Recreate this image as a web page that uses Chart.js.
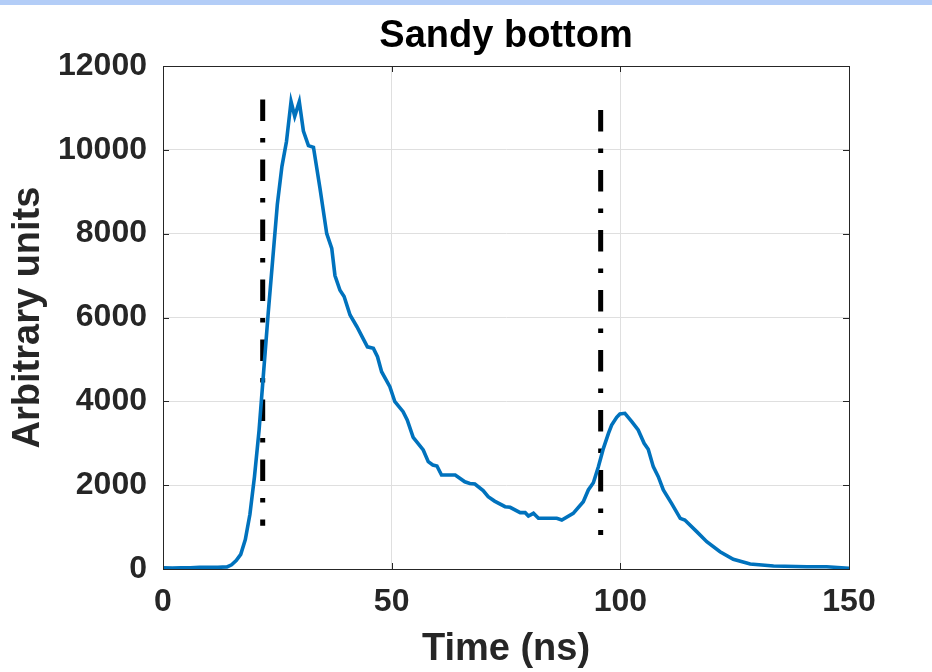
<!DOCTYPE html>
<html>
<head>
<meta charset="utf-8">
<title>Sandy bottom</title>
<script src="https://cdn.jsdelivr.net/npm/chart.js@4.4.1/dist/chart.umd.min.js"></script>
<style>
  html, body { margin: 0; padding: 0; background: #fff; }
  #wrap { position: relative; width: 932px; height: 672px; }
  #topBand { position: absolute; left: 0; top: 0; width: 932px; height: 5px; background: #b3cdf7; }
  canvas { position: absolute; left: 0; top: 0; }
</style>
</head>
<body>
<div id="wrap">
  <canvas id="chart" width="932" height="672"></canvas>
  <div id="topBand"></div>
</div>
<script>
// Signal (time in ns, arbitrary units)
const timeNs = [
  0, 2, 4, 6, 8, 10, 12, 14, 15, 16, 17, 18, 19, 20, 21, 22, 23, 24, 25, 26,
  27, 28, 28.8, 29.8, 30.7, 31.8, 32.9, 34.3, 35.8, 36.9, 37.6, 38.7, 39.6, 40.9,
  42.4, 43.5, 44.7, 46.0, 46.9, 47.8, 49.6, 50.7, 52.5, 53.4, 54.7, 56.9, 58.0,
  59.0, 59.9, 60.9, 63.9, 66.0, 67.1, 68.2, 70.0, 71.1, 72.5, 74.8, 75.9, 78.1,
  79.2, 79.9, 81.0, 82.1, 86.1, 87.2, 89.7, 91.9, 93.0, 94.1, 95.2, 96.3, 97.4,
  98.1, 99.2, 99.9, 101.0, 102.5, 103.9, 105.2, 106.1, 107.2, 108.3, 109.4,
  111.2, 113.1, 114.1, 116.7, 118.9, 121.8, 124.7, 128.4, 133.5, 140.8, 145.1, 150
];
const signal = [
  30, 20, 30, 30, 40, 40, 40, 50, 100, 200, 350, 700, 1300, 2200, 3300, 4700, 6100, 7400, 8700, 9600,
  10200, 11150, 10800, 11150, 10450, 10100, 10060, 9100, 8000, 7650, 7000, 6650, 6500, 6060,
  5780, 5550, 5300, 5264, 5064, 4707, 4349, 3991, 3753, 3554, 3141, 2839, 2560,
  2481, 2457, 2242, 2242, 2080, 2040, 2028, 1869, 1725, 1620, 1487, 1471, 1344,
  1344, 1264, 1328, 1209, 1209, 1169, 1328, 1606, 1885, 2059, 2441, 2879, 3237,
  3435, 3620, 3700, 3714, 3515, 3316, 2998, 2855, 2441, 2203, 1885,
  1567, 1209, 1169, 891, 652, 413, 231, 119, 72, 55, 55, 17
];

// Dash-dot marker lines
const markerTimes = [21.8, 95.7];
const markerTop = [11200, 10950];
const markerBottom = [1030, 810];

// Axis ticks
const xTicks = [0, 50, 100, 150];
const yTicks = [0, 2000, 4000, 6000, 8000, 10000, 12000];

const titleText = "Sandy bottom";
const fontFamily = "'Liberation Sans', Arial, Helvetica, sans-serif";
const axisColor = "#262626";
const gridColor = "#dfdfdf";

const datasets = [
  {
    data: timeNs.map((t, i) => ({ x: t, y: signal[i] })),
    borderColor: "#0072BD",
    borderWidth: 3.6,
    pointRadius: 0,
    tension: 0,
    fill: false,
  },
];

markerTimes.forEach((t, i) => {
  datasets.push({
    data: [
      { x: t, y: markerTop[i] },
      { x: t, y: markerBottom[i] },
    ],
    borderColor: "#000",
    borderWidth: 5,
    borderDash: [21.5, 17, 4.5, 17],
    borderCapStyle: "butt",
    pointRadius: 0,
    fill: false,
  });
});

/** Box around the axes, MATLAB style inward ticks, title over the plot */
const frameTicks = {
  id: "frameTicks",
  afterDraw(chart) {
    const { ctx, chartArea } = chart;
    const xs = chart.scales.x;
    const ys = chart.scales.y;
    const len = 6;
    ctx.save();
    ctx.strokeStyle = axisColor;
    ctx.lineWidth = 1;
    ctx.beginPath();
    xTicks.forEach((v) => {
      const px = Math.round(xs.getPixelForValue(v)) + 0.5;
      ctx.moveTo(px, chartArea.bottom);
      ctx.lineTo(px, chartArea.bottom - len);
      ctx.moveTo(px, chartArea.top);
      ctx.lineTo(px, chartArea.top + len);
    });
    yTicks.forEach((v) => {
      const py = Math.round(ys.getPixelForValue(v)) + 0.5;
      ctx.moveTo(chartArea.left, py);
      ctx.lineTo(chartArea.left + len, py);
      ctx.moveTo(chartArea.right, py);
      ctx.lineTo(chartArea.right - len, py);
    });
    ctx.stroke();
    ctx.strokeRect(
      Math.round(chartArea.left) + 0.5,
      Math.round(chartArea.top) + 0.5,
      Math.round(chartArea.right - chartArea.left),
      Math.round(chartArea.bottom - chartArea.top)
    );

    // Title centred on the axes, like MATLAB
    ctx.fillStyle = "#000";
    ctx.font = "bold 38px " + fontFamily;
    ctx.textAlign = "center";
    ctx.textBaseline = "alphabetic";
    ctx.fillText(titleText, (chartArea.left + chartArea.right) / 2, 47);
    ctx.restore();
  },
};

const ctx = document.getElementById("chart").getContext("2d");

new Chart(ctx, {
  type: "line",
  data: { datasets: datasets },
  plugins: [frameTicks],
  options: {
    responsive: false,
    animation: false,
    devicePixelRatio: 1,
    layout: { padding: { left: 0, right: 83, top: 66, bottom: 0 } },
    plugins: {
      legend: { display: false },
      tooltip: { enabled: false },
      title: { display: false },
    },
    scales: {
      x: {
        type: "linear",
        min: 0,
        max: 150,
        afterBuildTicks: (s) => {
          s.ticks = xTicks.map((v) => ({ value: v }));
        },
        afterFit: (s) => {
          s.height = 103;
        },
        grid: { color: gridColor, drawTicks: false },
        border: { color: axisColor },
        ticks: {
          color: axisColor,
          padding: 14,
          maxRotation: 0,
          font: { family: fontFamily, size: 32, weight: "bold" },
        },
        title: {
          display: true,
          text: "Time (ns)",
          color: axisColor,
          font: { family: fontFamily, size: 38, weight: "bold", lineHeight: 1 },
          padding: { top: 0, bottom: 3 },
        },
      },
      y: {
        type: "linear",
        min: 0,
        max: 12000,
        afterBuildTicks: (s) => {
          s.ticks = yTicks.map((v) => ({ value: v }));
        },
        afterFit: (s) => {
          s.width = 163;
        },
        grid: { color: gridColor, drawTicks: false },
        border: { color: axisColor },
        ticks: {
          color: axisColor,
          padding: 16,
          font: { family: fontFamily, size: 32, weight: "bold" },
          callback: (v) => String(v),
        },
        title: {
          display: true,
          text: "Arbitrary units",
          color: axisColor,
          font: { family: fontFamily, size: 38, weight: "bold" },
          padding: { top: 5.7, bottom: 0 },
        },
      },
    },
  },
});
</script>
</body>
</html>
